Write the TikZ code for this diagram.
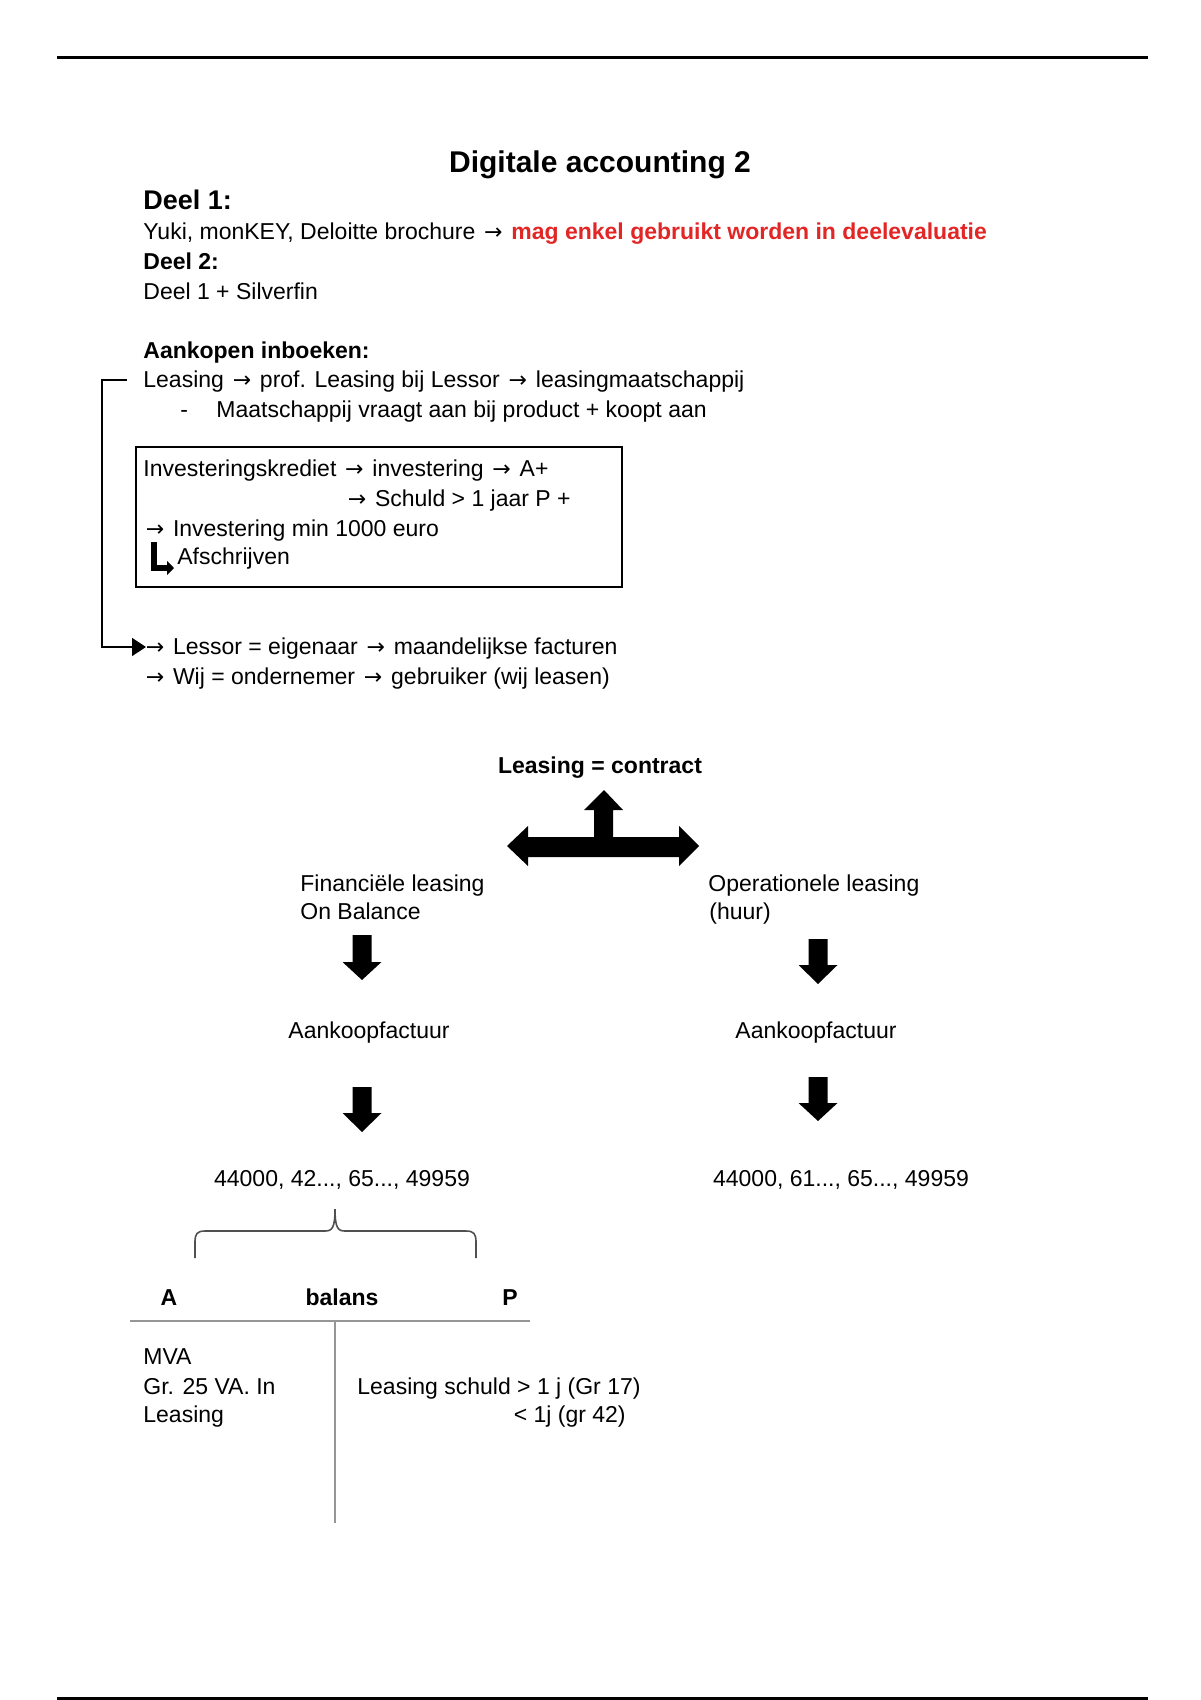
\documentclass[tikz,border=0pt]{standalone}
\usepackage{fontspec}
\setmainfont{Liberation Sans}
\newfontfamily\arrowfont{DejaVu Sans}
\newcommand{\rarr}{\hspace{1.2pt}{\arrowfont\fontsize{11}{14}\selectfont →}\hspace{1.2pt}}
\usetikzlibrary{arrows.meta}
\definecolor{warnred}{RGB}{226,38,38}
\definecolor{balgray}{RGB}{150,150,150}
\definecolor{bracegray}{RGB}{80,80,80}
\newcommand{\blkdown}[4]{% x, top, base, tip
  \fill (#1-9.5,#2) -- (#1+9.5,#2) -- (#1+9.5,#3) -- (#1+19.5,#3) -- (#1,#4) -- (#1-19.5,#3) -- (#1-9.5,#3) -- cycle;}
\begin{document}
\begin{tikzpicture}[x=0.5pt,y=-0.5pt,
  txt/.style={inner sep=0pt, anchor=west, text height=9.5pt, text depth=2pt, font=\fontsize{11.5}{14}\selectfont},
  ctxt/.style={txt, anchor=center},
  rule/.style={line width=1.5pt},
  conn/.style={line width=0.8pt, -{Triangle[length=7pt,width=9pt]}},
  balline/.style={draw=balgray, line width=1pt}]
\useasboundingbox (0,0) rectangle (1200,1700);
% page rules
\coordinate (rtl) at (57,58); \coordinate (rtr) at (1148,58);
\coordinate (rbl) at (57,1698); \coordinate (rbr) at (1148,1698);
\draw[rule] (rtl) -- (rtr);
\draw[rule] (rbl) -- (rbr);
% header
\node[ctxt, font=\bfseries\fontsize{15}{18}\selectfont] (title) at (600,165) {Digitale accounting 2};
\node[txt, font=\bfseries\fontsize{13.5}{16}\selectfont] (deel1) at (143,202) {Deel 1:};
\node[txt] (yuki) at (143,232) {Yuki, monKEY, Deloitte brochure \rarr{} \textcolor{warnred}{\bfseries mag enkel gebruikt worden in deelevaluatie}};
\node[txt, font=\bfseries\fontsize{11.5}{14}\selectfont] (deel2) at (143,262) {Deel 2:};
\node[txt] (deel1s) at (143,292) {Deel 1 + Silverfin};
\node[txt, font=\bfseries\fontsize{11.5}{14}\selectfont] (aank) at (143,351) {Aankopen inboeken:};
\node[txt] (leasing) at (143,380) {Leasing \rarr{} prof. Leasing bij Lessor \rarr{} leasingmaatschappij};
\node[txt] (dash) at (180,410) {-};
\node[txt] (maat) at (216,410) {Maatschappij vraagt aan bij product + koopt aan};
% box
\node[draw, line width=1pt, inner sep=0pt, minimum width=243pt, minimum height=70pt, anchor=north west] (box) at (135,446) {};
\node[txt] (inv) at (143,469) {Investeringskrediet \rarr{} investering \rarr{} A+};
\node[txt] (schuld) at (345,499) {\rarr{} Schuld > 1 jaar P +};
\node[txt] (invmin) at (143,529) {\rarr{} Investering min 1000 euro};
\node[txt] (afs) at (177,557) {Afschrijven};
\coordinate (la) at (154,542); \coordinate (lb) at (154,568); \coordinate (lc) at (174,568);
\draw[line width=3pt, -{Triangle[length=3.5pt,width=7pt]}] (la) -- (lb) -- (lc);
% lessor lines
\node[txt] (lessor) at (143,647) {\rarr{} Lessor = eigenaar \rarr{} maandelijkse facturen};
\node[txt] (wij) at (143,677) {\rarr{} Wij = ondernemer \rarr{} gebruiker (wij leasen)};
\coordinate (cstart) at (127,380);
\draw[conn] (cstart) -- (102,380) -- (102,647) -- ([xshift=1.5pt]lessor.west);
% leasing contract
\node[ctxt, font=\bfseries\fontsize{11.5}{14}\selectfont] (contract) at (600,766) {Leasing = contract};
\fill (507,846) -- (528,826) -- (528,837) -- (594,837) -- (594,810) -- (584,810) -- (604,790)
  -- (623,810) -- (613,810) -- (613,837) -- (679,837) -- (679,826) -- (699,846) -- (679,866)
  -- (679,857) -- (528,857) -- (528,866) -- cycle;
% branches
\node[txt] (fin1) at (300,884) {Financiële leasing};
\node[txt] (fin2) at (300,912) {On Balance};
\node[txt] (op1) at (708,884) {Operationele leasing};
\node[txt] (op2) at (709,912) {(huur)};
\blkdown{362}{935}{962}{980}
\blkdown{818}{939}{965}{984}
\node[ctxt] (aankL) at (369,1031) {Aankoopfactuur};
\node[ctxt] (aankR) at (816,1031) {Aankoopfactuur};
\blkdown{362}{1087}{1113}{1132}
\blkdown{818}{1077}{1103}{1121}
\node[ctxt] (numL) at (342,1179) {44000, 42..., 65..., 49959};
\node[ctxt] (numR) at (841,1179) {44000, 61..., 65..., 49959};
% brace
\draw[bracegray, line width=0.8pt] (195,1258) -- (195,1242) .. controls (195,1234) and (197,1231) .. (205,1231) -- (325,1231) .. controls (332,1231) and (335,1228) .. (335,1209);
\draw[bracegray, line width=0.8pt] (476,1258) -- (476,1242) .. controls (476,1234) and (474,1231) .. (466,1231) -- (345,1231) .. controls (338,1231) and (335,1228) .. (335,1209);
% balans
\node[ctxt, font=\bfseries\fontsize{11.5}{14}\selectfont] (balA) at (169,1298) {A};
\node[ctxt, font=\bfseries\fontsize{11.5}{14}\selectfont] (balT) at (342,1298) {balans};
\node[ctxt, font=\bfseries\fontsize{11.5}{14}\selectfont] (balP) at (510,1298) {P};
\coordinate (hl) at (130,1321); \coordinate (hr) at (530,1321);
\coordinate (vt) at (335,1321); \coordinate (vb) at (335,1523);
\draw[balline] (hl) -- (hr);
\draw[balline] (vt) -- (vb);
\node[txt] (mva) at (143,1357) {MVA};
\node[txt] (gr25) at (143,1387) {Gr. 25 VA. In};
\node[txt] (leas) at (143,1415) {Leasing};
\node[txt] (ls1) at (357,1387) {Leasing schuld > 1 j (Gr 17)};
\node[txt, anchor=east] (ls2) at (626,1415) {< 1j (gr 42)};
\end{tikzpicture}
\end{document}
